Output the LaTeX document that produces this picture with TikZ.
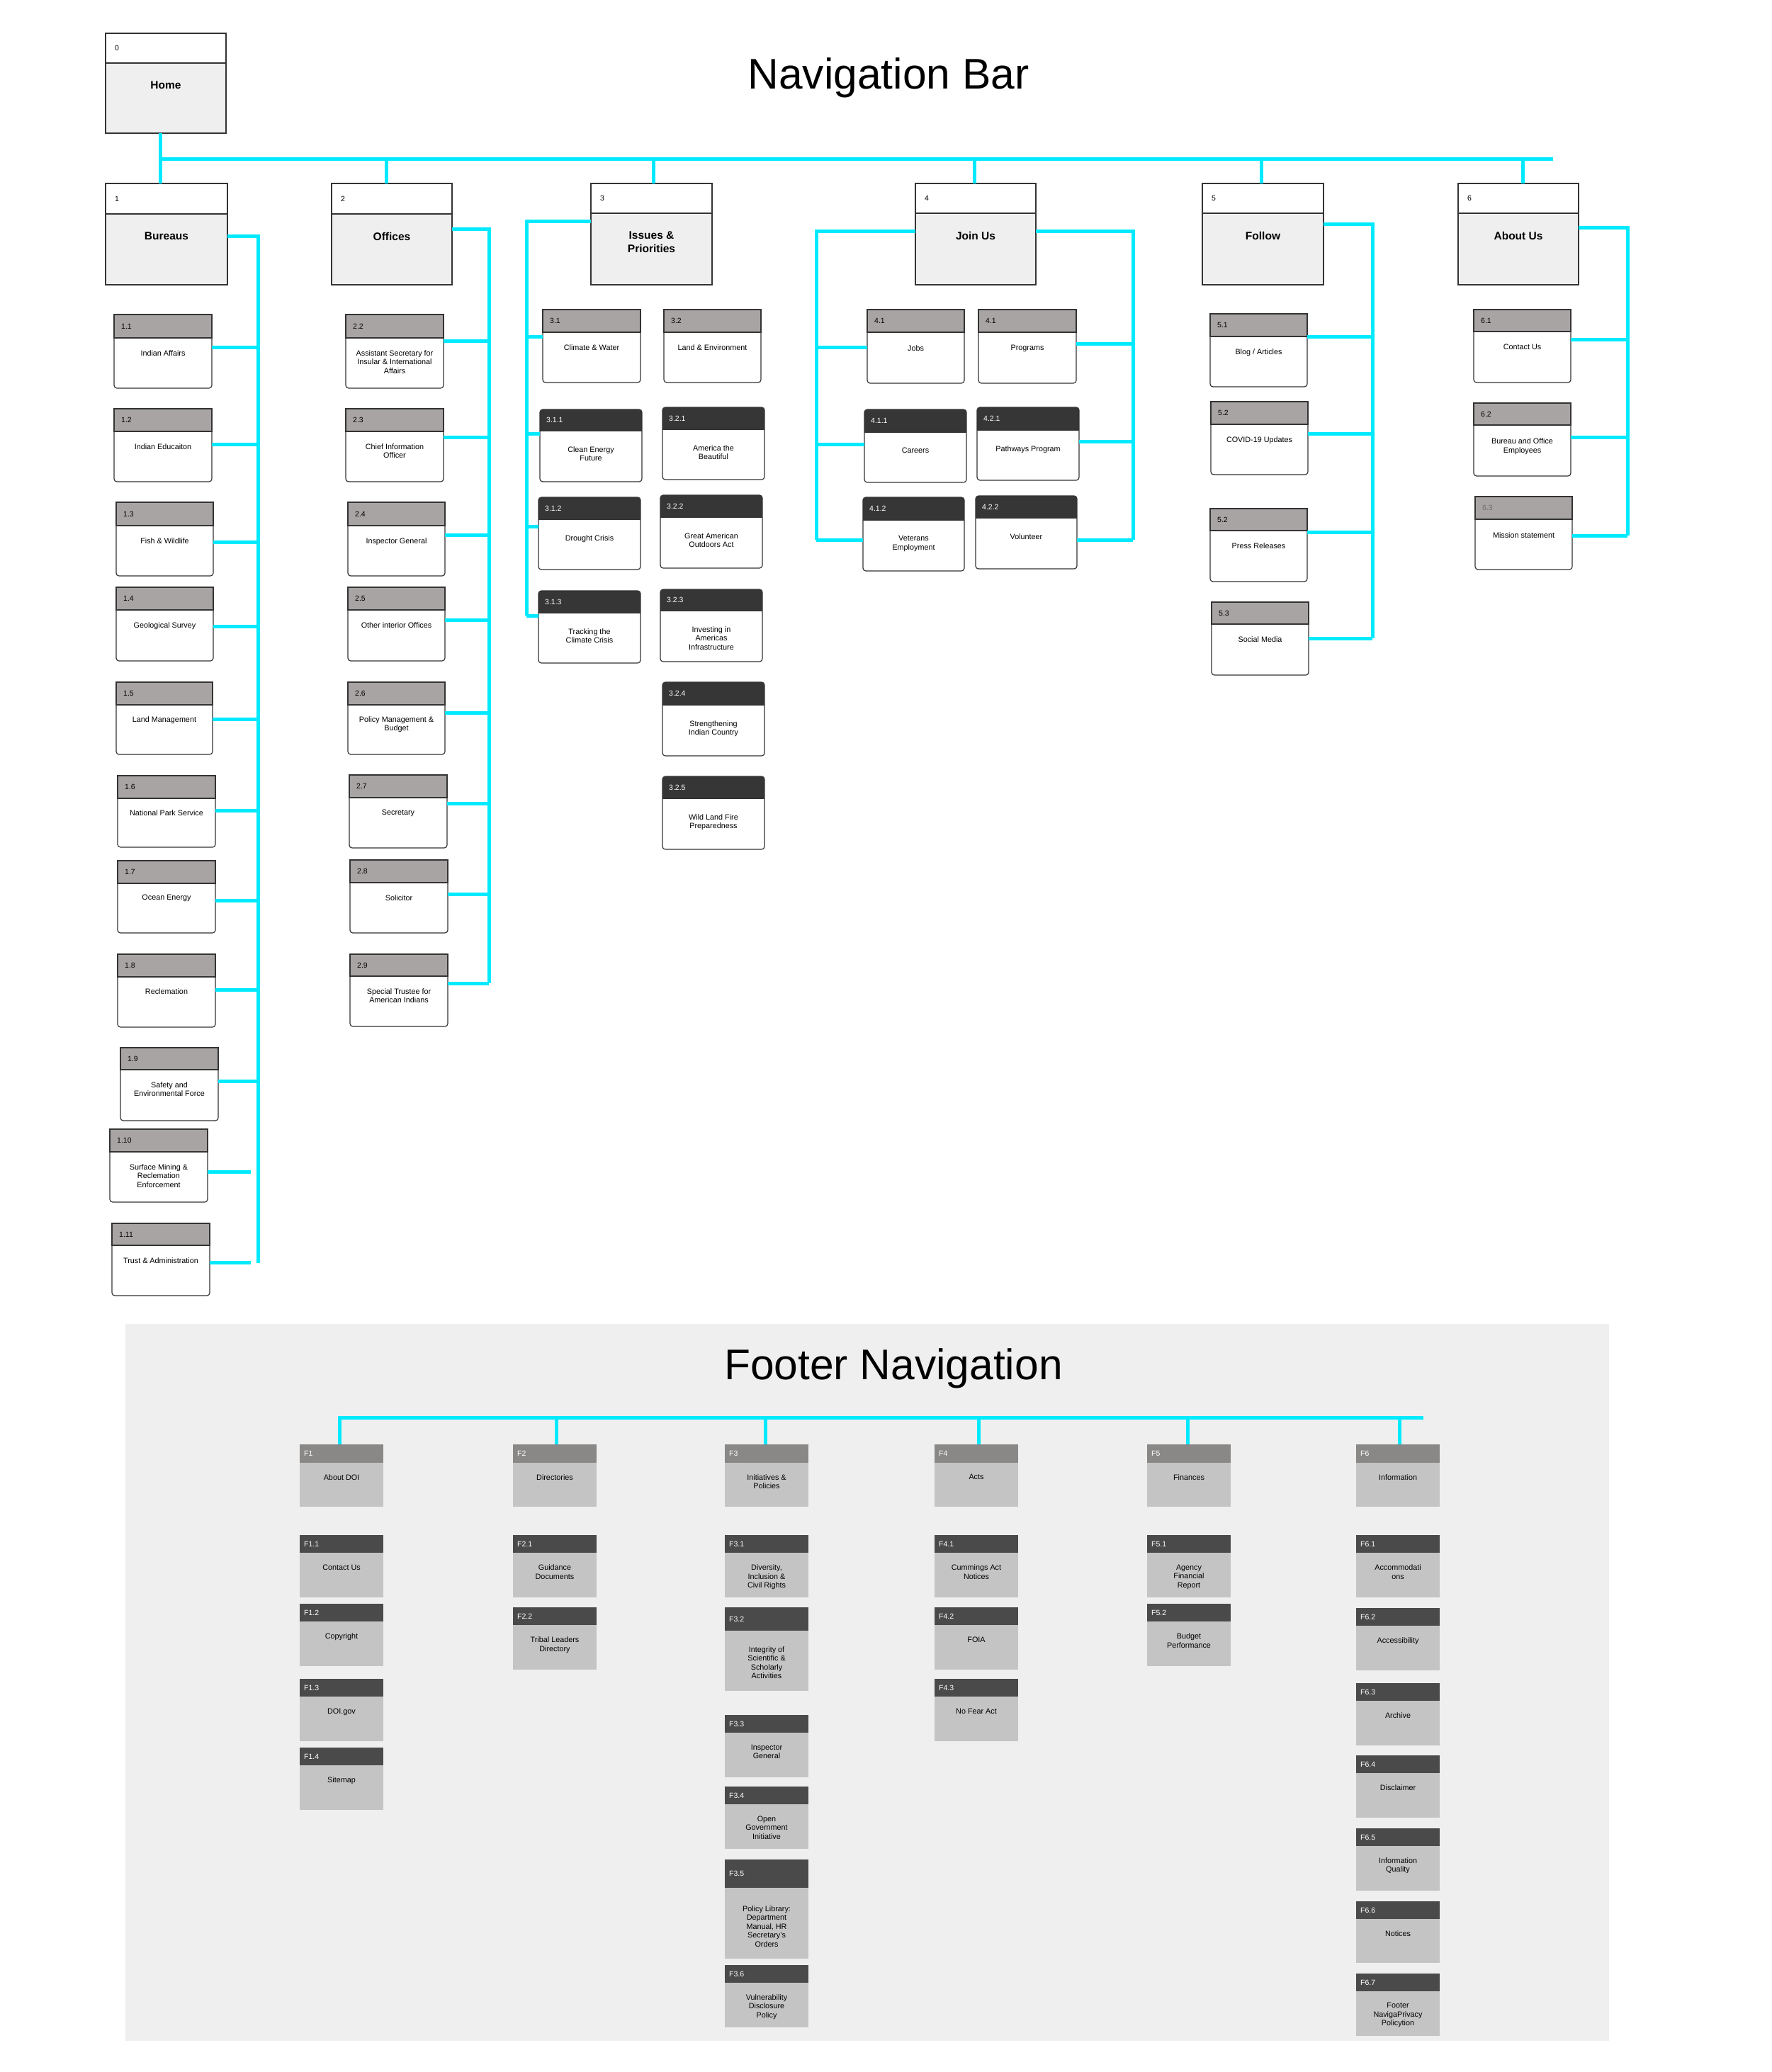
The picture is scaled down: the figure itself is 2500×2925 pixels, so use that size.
\documentclass[tikz,border=0pt]{standalone}
\usepackage{fontspec}
\setmainfont{Liberation Sans}
\usetikzlibrary{calc}
\definecolor{cyanl}{RGB}{0,234,255}
\definecolor{bordc}{RGB}{51,51,51}
\definecolor{lvbody}{RGB}{239,239,239}
\definecolor{hdrg}{RGB}{169,164,164}
\definecolor{hdrd}{RGB}{54,54,54}
\definecolor{ftbg}{RGB}{239,239,239}
\definecolor{fthdr}{RGB}{137,136,134}
\definecolor{ftdark}{RGB}{74,74,74}
\definecolor{ftbody}{RGB}{196,196,196}
\definecolor{labgray}{RGB}{110,110,110}
\newcommand{\mybody}{\fontsize{10.8}{12.5}\selectfont}
\newcommand{\mylab}{\fontsize{10.5}{12}\selectfont}
\newcommand{\myttl}{\fontsize{15.5}{19}\selectfont\bfseries}
\newcommand{\mybig}{\fontsize{60.5}{64}\selectfont}
\tikzset{
  link/.style={draw=cyanl, line width=5pt, line join=miter},
  bord/.style={draw=bordc, line width=1.2pt},
  hold/.style={inner sep=0pt, outer sep=0pt, anchor=north west, draw=none},
  txt/.style={font=\mybody, align=center, inner sep=0pt, anchor=north},
  lab/.style={font=\mylab, inner sep=0pt, anchor=west},
  ttl/.style={font=\myttl, align=center, inner sep=0pt, anchor=north},
  bigtitle/.style={font=\mybig, inner sep=0pt, anchor=base},
}
% level-1 box: name x1 y1 yh x2 y2 label title
\newcommand{\lvone}[8]{%
  \draw[bord, fill=lvbody] (#2,#3) rectangle (#5,#6);
  \draw[bord, fill=white] (#2,#3) rectangle (#5,#4);
  \node[hold, minimum width={(#5-#2)*1pt}, minimum height={(#6-#3)*1pt}] (#1) at (#2,#3) {};
  \node[lab] (#1l) at ({#2+13},{(#3+#4)/2}) {#7};
  \node[ttl] (#1t) at ({(#2+#5)/2},{#4+26}) {#8};
}
% gray-header box: name x1 y1 yh x2 y2 label text offset
\newcommand{\gbox}[9]{%
  \draw[bord, fill=white, rounded corners=4pt] (#2,#3) rectangle (#5,#6);
  \draw[bord, fill=hdrg] (#2,#3) rectangle (#5,#4);
  \node[hold, minimum width={(#5-#2)*1pt}, minimum height={(#6-#3)*1pt}] (#1) at (#2,#3) {};
  \node[lab] (#1l) at ({#2+10},{(#3+#4)/2}) {#7};
  \node[txt] (#1t) at ({(#2+#5)/2},{#4+#9}) {#8};
}
% dark-header box
\newcommand{\dbox}[9]{%
  \begin{scope}
    \clip[rounded corners=4pt] (#2,#3) rectangle (#5,#6);
    \fill[white] (#2,#3) rectangle (#5,#6);
    \fill[hdrd] (#2,#3) rectangle (#5,#4);
  \end{scope}
  \draw[bord, rounded corners=4pt] (#2,#3) rectangle (#5,#6);
  \draw[bord] (#2,#4) -- (#5,#4);
  \node[hold, minimum width={(#5-#2)*1pt}, minimum height={(#6-#3)*1pt}] (#1) at (#2,#3) {};
  \node[lab, text=white] (#1l) at ({#2+9},{(#3+#4)/2}) {#7};
  \node[txt] (#1t) at ({(#2+#5)/2},{#4+#9}) {#8};
}
% footer box: name x1 y1 yh y2 label text hdrcolor offset
\newcommand{\ftbox}[9]{%
  \fill[ftbody] (#2,#3) rectangle ({#2+118},#5);
  \fill[#8] (#2,#3) rectangle ({#2+118},#4);
  \node[hold, minimum width=118pt, minimum height={(#5-#3)*1pt}] (#1) at (#2,#3) {};
  \node[lab, text=white] (#1l) at ({#2+6},{(#3+#4)/2}) {#6};
  \node[txt] (#1t) at ({#2+59},{#4+#9}) {#7};
}
\begin{document}
\begin{tikzpicture}[x=1pt,y=-1pt]
\fill[white] (0,0) rectangle (2500,2925);
\useasboundingbox (0,0) rectangle (2500,2925);

% ---------- Navigation bar ----------
\node[bigtitle] (navtitle) at (1254,125) {Navigation Bar};

\lvone{home}{149}{47}{89}{319}{188}{0}{Home}
\lvone{bur}{149}{259}{302}{321}{402}{1}{Bureaus}
\lvone{off}{468}{259}{302}{638}{402}{2}{Offices}
\lvone{iss}{834}{259}{301}{1005}{402}{3}{Issues \&\\Priorities}
\lvone{join}{1292}{259}{301}{1462}{402}{4}{Join Us}
\lvone{fol}{1697}{259}{301}{1868}{402}{5}{Follow}
\lvone{abt}{2058}{259}{301}{2228}{402}{6}{About Us}

% top trunk
\coordinate (navstart) at (226,224);
\coordinate (navend) at (2192,224);
\draw[link] (navstart) -- (navend);
\draw[link] (home.south -| navstart) -- (bur.north -| navstart);
\draw[link] ([xshift=-8pt]off.north) -- ([xshift=-8pt]off.north |- navstart);
\draw[link] ([xshift=2.5pt]iss.north) -- ([xshift=2.5pt]iss.north |- navstart);
\draw[link] ([xshift=-2pt]join.north) -- ([xshift=-2pt]join.north |- navstart);
\draw[link] ([xshift=-2.5pt]fol.north) -- ([xshift=-2.5pt]fol.north |- navstart);
\draw[link] ([xshift=6pt]abt.north) -- ([xshift=6pt]abt.north |- navstart);

% Bureaus children
\gbox{b11}{161}{444}{477}{299}{548}{1.1}{Indian Affairs}{17}
\gbox{b12}{161}{577}{609}{299}{680}{1.2}{Indian Educaiton}{17}
\gbox{b13}{164}{709}{742}{301}{813}{1.3}{Fish \& Wildlife}{17}
\gbox{b14}{164}{829}{861}{301}{933}{1.4}{Geological Survey}{17}
\gbox{b15}{164}{963}{995}{300}{1065}{1.5}{Land Management}{16}
\gbox{b16}{166}{1095}{1127}{304}{1196}{1.6}{National Park Service}{16}
\gbox{b17}{166}{1215}{1247}{304}{1317}{1.7}{Ocean Energy}{16}
\gbox{b18}{166}{1347}{1379}{304}{1450}{1.8}{Reclemation}{16}
\gbox{b19}{170}{1479}{1510}{308}{1582}{1.9}{Safety and\\Environmental Force}{17}
\gbox{b110}{155}{1594}{1626}{293}{1697}{1.10}{Surface Mining \&\\Reclemation\\Enforcement}{17}
\gbox{b111}{158}{1727}{1758}{296}{1829}{1.11}{Trust \& Administration}{17}

\coordinate (busB) at (364,333);
\coordinate (busBend) at (364,1783);
\draw[link] (bur.east |- busB) -- (busB) -- (busBend);
\foreach \n/\y in {b11/490,b12/627,b13/765,b14/884,b15/1015,b16/1144,b17/1271,b18/1397,b19/1526}
  {\draw[link] (\n.east |- 0,\y) -- (busB |- 0,\y);}
\draw[link] (b110.east |- 0,1654) -- ([xshift=-10pt]busB |- 0,1654);
\draw[link] (b111.east |- 0,1782) -- ([xshift=-10pt]busB |- 0,1782);

% Offices children
\gbox{o22}{488}{444}{477}{626}{548}{2.2}{Assistant Secretary for\\Insular \& International\\Affairs}{17}
\gbox{o23}{488}{577}{609}{626}{680}{2.3}{Chief Information\\Officer}{17}
\gbox{o24}{491}{709}{742}{628}{813}{2.4}{Inspector General}{17}
\gbox{o25}{491}{829}{861}{628}{933}{2.5}{Other interior Offices}{17}
\gbox{o26}{491}{963}{995}{628}{1065}{2.6}{Policy Management \&\\Budget}{16}
\gbox{o27}{493}{1094}{1126}{631}{1197}{2.7}{Secretary}{17}
\gbox{o28}{494}{1214}{1246}{632}{1317}{2.8}{Solicitor}{17}
\gbox{o29}{494}{1347}{1378}{632}{1449}{2.9}{Special Trustee for\\American Indians}{17}

\coordinate (busO) at (690,323);
\coordinate (busOend) at (690,1388);
\draw[link] (off.east |- busO) -- (busO) -- (busOend);
\foreach \n/\y in {o22/481,o23/617,o24/755,o25/875,o26/1006,o27/1134,o28/1262,o29/1388}
  {\draw[link] (\n.east |- 0,\y) -- (busO |- 0,\y);}

% Issues children
\gbox{i31}{766}{437}{469}{904}{540}{3.1}{Climate \& Water}{17}
\gbox{i32}{937}{437}{469}{1074}{540}{3.2}{Land \& Environment}{17}
\dbox{i311}{762}{578}{608}{906}{680}{3.1.1}{Clean Energy\\Future}{22}
\dbox{i321}{935}{575}{606}{1079}{677}{3.2.1}{America the\\Beautiful}{22}
\dbox{i312}{760}{702}{733}{904}{804}{3.1.2}{Drought Crisis}{22}
\dbox{i322}{932}{699}{730}{1076}{802}{3.2.2}{Great American\\Outdoors Act}{22}
\dbox{i313}{760}{834}{865}{904}{936}{3.1.3}{Tracking the\\Climate Crisis}{22}
\dbox{i323}{932}{832}{862}{1076}{934}{3.2.3}{Investing in\\Americas\\Infrastructure}{22}
\dbox{i324}{935}{963}{995}{1079}{1067}{3.2.4}{Strengthening\\Indian Country}{22}
\dbox{i325}{935}{1096}{1127}{1079}{1199}{3.2.5}{Wild Land Fire\\Preparedness}{22}

\coordinate (busI) at (743,312);
\coordinate (busIend) at (743,869);
\draw[link] (iss.west |- busI) -- (busI) -- (busIend);
\foreach \n/\y in {i31/475,i311/612,i312/743,i313/869}
  {\draw[link] (busI |- 0,\y) -- (\n.west |- 0,\y);}

% Join Us children
\gbox{j41}{1224}{437}{469}{1361}{541}{4.1}{Jobs}{18}
\gbox{j42}{1381}{437}{469}{1519}{541}{4.1}{Programs}{18}
\dbox{j411}{1220}{578}{610}{1364}{681}{4.1.1}{Careers}{21.5}
\dbox{j421}{1379}{575}{607}{1523}{678}{4.2.1}{Pathways Program}{22}
\dbox{j412}{1218}{702}{734}{1361}{806}{4.1.2}{Veterans\\Employment}{22}
\dbox{j422}{1377}{700}{731}{1520}{803}{4.2.2}{Volunteer}{22}

\coordinate (busJL) at (1152,326);
\coordinate (busJLend) at (1152,762);
\coordinate (busJR) at (1599,326);
\coordinate (busJRend) at (1599,762);
\draw[link] (join.west |- busJL) -- (busJL) -- (busJLend);
\draw[link] (join.east |- busJR) -- (busJR) -- (busJRend);
\foreach \n/\y in {j41/490,j411/627,j412/762}
  {\draw[link] (busJL |- 0,\y) -- (\n.west |- 0,\y);}
\foreach \n/\y in {j42/485,j421/623,j422/762}
  {\draw[link] (\n.east |- 0,\y) -- (busJR |- 0,\y);}

% Follow children
\gbox{f51}{1708}{443}{475}{1845}{546}{5.1}{Blog / Articles}{17.5}
\gbox{f52}{1709}{567}{599}{1846}{670}{5.2}{COVID-19 Updates}{17.5}
\gbox{f53}{1708}{718}{749}{1845}{821}{5.2}{Press Releases}{17.5}
\gbox{f54}{1710}{850}{881}{1847}{953}{5.3}{Social Media}{17.5}

\coordinate (busF) at (1937,316);
\coordinate (busFend) at (1937,901);
\draw[link] (fol.east |- busF) -- (busF) -- (busFend);
\foreach \n/\y in {f51/475,f52/612,f53/751,f54/901}
  {\draw[link] (\n.east |- 0,\y) -- (busF |- 0,\y);}

% About Us children
\gbox{a61}{2080}{437}{468}{2217}{540}{6.1}{Contact Us}{18}
\gbox{a62}{2080}{569}{600}{2217}{672}{6.2}{Bureau and Office\\Employees}{18.5}
\gbox{a63}{2082}{701}{733}{2219}{804}{\textcolor{labgray}{6.3}}{Mission statement}{18}

\coordinate (busA) at (2297,321);
\coordinate (busAend) at (2297,756);
\draw[link] (abt.east |- busA) -- (busA) -- (busAend);
\foreach \n/\y in {a61/479,a62/617,a63/756}
  {\draw[link] (\n.east |- 0,\y) -- (busA |- 0,\y);}

% ---------- Footer navigation ----------
\fill[ftbg] (177,1869) rectangle (2271,2881);
\node[bigtitle] (fttitle) at (1261,1947) {Footer Navigation};

\ftbox{F1}{423}{2039}{2064.5}{2127}{F1}{About DOI}{fthdr}{16.5}
\ftbox{F2}{724}{2039}{2064.5}{2127}{F2}{Directories}{fthdr}{16.5}
\ftbox{F3}{1023}{2039}{2064.5}{2127}{F3}{Initiatives \&\\Policies}{fthdr}{16.5}
\ftbox{F4}{1319}{2039}{2064.5}{2127}{F4}{Acts}{fthdr}{16.5}
\ftbox{F5}{1619}{2039}{2064.5}{2127}{F5}{Finances}{fthdr}{16.5}
\ftbox{F6}{1914}{2039}{2064.5}{2127}{F6}{Information}{fthdr}{16.5}

\ftbox{F11}{423}{2167}{2192}{2255}{F1.1}{Contact Us}{ftdark}{16.5}
\ftbox{F12}{423}{2264}{2289}{2352}{F1.2}{Copyright}{ftdark}{16.5}
\ftbox{F13}{423}{2370}{2395}{2458}{F1.3}{DOI.gov}{ftdark}{16.5}
\ftbox{F14}{423}{2467}{2492}{2555}{F1.4}{Sitemap}{ftdark}{16.5}

\ftbox{F21}{724}{2167}{2192}{2255}{F2.1}{Guidance\\Documents}{ftdark}{16.5}
\ftbox{F22}{724}{2269}{2294}{2357}{F2.2}{Tribal Leaders\\Directory}{ftdark}{16.5}

\ftbox{F31}{1023}{2167}{2192}{2255}{F3.1}{Diversity,\\Inclusion \&\\Civil Rights}{ftdark}{16.5}
\ftbox{F32}{1023}{2269}{2302}{2387}{F3.2}{Integrity of\\Scientific \&\\Scholarly\\Activities}{ftdark}{22}
\ftbox{F33}{1023}{2421}{2446}{2509}{F3.3}{Inspector\\General}{ftdark}{16.5}
\ftbox{F34}{1023}{2522}{2547}{2610}{F3.4}{Open\\Government\\Initiative}{ftdark}{16.5}
\ftbox{F35}{1023}{2625}{2665}{2765}{F3.5}{Policy Library:\\Department\\Manual, HR\\Secretary's\\Orders}{ftdark}{25}
\ftbox{F36}{1023}{2774}{2799}{2862}{F3.6}{Vulnerability\\Disclosure\\Policy}{ftdark}{16}

\ftbox{F41}{1319}{2167}{2192}{2255}{F4.1}{Cummings Act\\Notices}{ftdark}{16.5}
\ftbox{F42}{1319}{2269}{2294}{2357}{F4.2}{FOIA}{ftdark}{16.5}
\ftbox{F43}{1319}{2370}{2395}{2458}{F4.3}{No Fear Act}{ftdark}{16.5}

\ftbox{F51}{1619}{2167}{2192}{2255}{F5.1}{Agency\\Financial\\Report}{ftdark}{16.5}
\ftbox{F52}{1619}{2264}{2289}{2352}{F5.2}{Budget\\Performance}{ftdark}{16.5}

\ftbox{F61}{1914}{2167}{2192}{2255}{F6.1}{Accommodati\\ons}{ftdark}{16.5}
\ftbox{F62}{1914}{2270}{2295}{2358}{F6.2}{Accessibility}{ftdark}{16.5}
\ftbox{F63}{1914}{2376}{2401}{2464}{F6.3}{Archive}{ftdark}{16.5}
\ftbox{F64}{1914}{2478}{2503}{2566}{F6.4}{Disclaimer}{ftdark}{16.5}
\ftbox{F65}{1914}{2581}{2606}{2669}{F6.5}{Information\\Quality}{ftdark}{16}
\ftbox{F66}{1914}{2684}{2709}{2771}{F6.6}{Notices}{ftdark}{16}
\ftbox{F67}{1914}{2786}{2811}{2874}{F6.7}{Footer\\NavigaPrivacy\\Policytion}{ftdark}{16}

\coordinate (fl0) at (479,2001);
\coordinate (fl1) at (2009,2001);
\draw[link] ([xshift=-3pt]F1.north) -- ([xshift=-3pt]F1.north |- fl0) -- (fl1);
\draw[link] ([xshift=2pt]F2.north) -- ([xshift=2pt]F2.north |- fl0);
\draw[link] ([xshift=-2pt]F3.north) -- ([xshift=-2pt]F3.north |- fl0);
\draw[link] ([xshift=3pt]F4.north) -- ([xshift=3pt]F4.north |- fl0);
\draw[link] ([xshift=-2pt]F5.north) -- ([xshift=-2pt]F5.north |- fl0);
\draw[link] ([xshift=2pt]F6.north) -- ([xshift=2pt]F6.north |- fl0);
\end{tikzpicture}
\end{document}
